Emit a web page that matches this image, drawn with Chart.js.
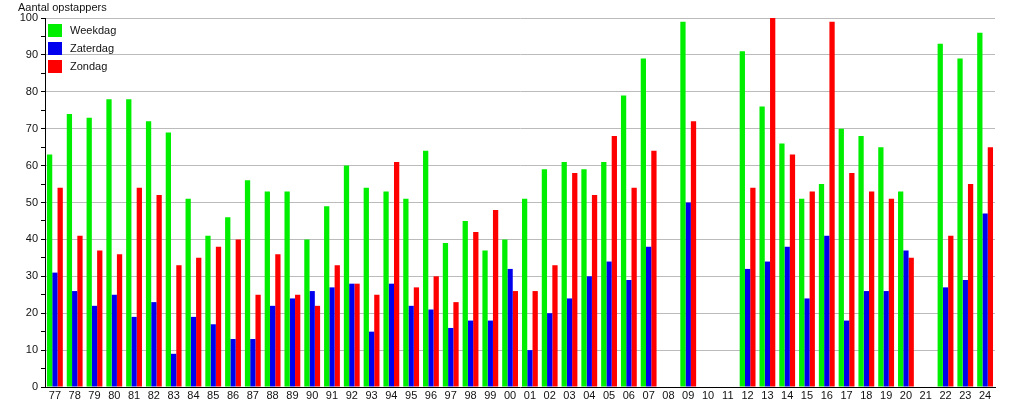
<!DOCTYPE html>
<html>
<head>
<meta charset="utf-8">
<script src="https://cdn.jsdelivr.net/npm/chart.js@4"></script>
<style>
  body { margin: 0; background: #fff; font-family: "Liberation Sans", Arial, sans-serif; }
  #wrap { position: relative; width: 1015px; height: 400px; }
  #titel { position: absolute; left: 18px; top: 1px; font-size: 11px; color: #111; }
  #legenda { position: absolute; left: 48px; top: 21px; font-size: 11px; color: #111; }
  #legenda div { height: 18px; display: flex; align-items: center; }
  #legenda span.blok { display: inline-block; width: 14px; height: 13px; margin-right: 8px; }
</style>
</head>
<body>
<div id="wrap">
  <canvas id="chartOpstappers" width="1015" height="400"></canvas>
  <div id="titel">Aantal opstappers</div>
  <div id="legenda">
    <div><span class="blok" style="background:#00ee00"></span>Weekdag</div>
    <div><span class="blok" style="background:#0000ee"></span>Zaterdag</div>
    <div><span class="blok" style="background:#ff0000"></span>Zondag</div>
  </div>
</div>
<script>
// Jaartallen 1977 t/m 2024
const jaren = ['77','78','79','80','81','82','83','84','85','86','87','88','89','90','91','92','93','94','95','96','97','98','99',
  '00','01','02','03','04','05','06','07','08','09','10','11','12','13','14','15','16','17','18','19','20','21','22','23','24'];

const weekdag = [63, 74, 73, 78, 78, 72, 69, 51, 41, 46, 56, 53, 53, 40, 49, 60, 54, 53, 51, 64, 39, 45, 37,
  40, 51, 59, 61, 59, 61, 79, 89, null, 99, null, null, 91, 76, 66, 51, 55, 70, 68, 65, 53, null, 93, 89, 96];

const zaterdag = [31, 26, 22, 25, 19, 23, 9, 19, 17, 13, 13, 22, 24, 26, 27, 28, 15, 28, 22, 21, 16, 18, 18,
  32, 10, 20, 24, 30, 34, 29, 38, null, 50, null, null, 32, 34, 38, 24, 41, 18, 26, 26, 37, null, 27, 29, 47];

const zondag = [54, 41, 37, 36, 54, 52, 33, 35, 38, 40, 25, 36, 25, 22, 33, 28, 25, 61, 27, 30, 23, 42, 48,
  26, 26, 33, 58, 52, 68, 54, 64, null, 72, null, null, 54, 100, 63, 53, 99, 58, 53, 51, 35, null, 41, 55, 65];

const ctx = document.getElementById('chartOpstappers');

new Chart(ctx, {
  type: 'bar',
  data: {
    labels: jaren,
    datasets: [
      { label: 'Weekdag', data: weekdag, backgroundColor: '#00ee00' },
      { label: 'Zaterdag', data: zaterdag, backgroundColor: '#0000ee' },
      { label: 'Zondag', data: zondag, backgroundColor: '#ff0000' }
    ]
  },
  options: {
    responsive: false,
    animation: false,
    layout: { padding: { left: 0, right: 20, top: 18, bottom: 0 } },
    categoryPercentage: 0.8,
    barPercentage: 1.0,
    plugins: {
      legend: { display: false },
      tooltip: { enabled: false }
    },
    scales: {
      x: {
        grid: { display: false, drawTicks: false },
        border: { color: '#000', width: 1 },
        ticks: {
          color: '#111',
          font: { family: 'Liberation Sans', size: 11 },
          maxRotation: 0,
          autoSkip: false,
          padding: 2
        },
        afterFit(scale) { scale.height = 13; }
      },
      y: {
        min: 0,
        max: 100,
        ticks: {
          stepSize: 5,
          color: '#111',
          font: { family: 'Liberation Sans', size: 11 },
          padding: 3,
          callback: (v) => (v % 10 === 0 ? v : '')
        },
        grid: {
          color: (c) => (c.tick && c.tick.value % 10 === 0 && c.tick.value !== 0 ? '#bbbbbb' : 'rgba(0,0,0,0)'),
          tickColor: '#000',
          tickLength: 4
        },
        border: { color: '#000', width: 1 },
        afterFit(scale) { scale.width = 45; }
      }
    }
  }
});
</script>
</body>
</html>
